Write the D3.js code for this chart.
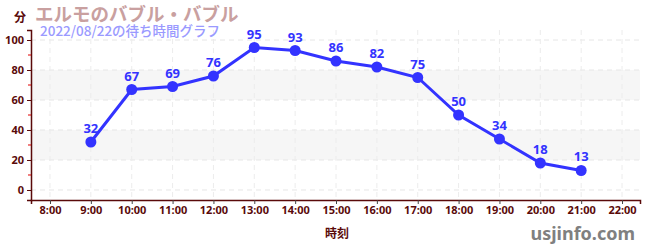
<!DOCTYPE html>
<html>
<head>
<meta charset="utf-8">
<script src="https://cdn.jsdelivr.net/npm/d3@7"></script>
<style>
body { margin: 0; background: #fff; }
svg text { font-family: "Noto Sans CJK JP", "Noto Sans", sans-serif; }
</style>
</head>
<body>
<svg id="chart" width="650" height="250"></svg>
<script>
// data
var hours = [9, 10, 11, 12, 13, 14, 15, 16, 17, 18, 19, 20, 21];
var waits = [32, 67, 69, 76, 95, 93, 86, 82, 75, 50, 34, 18, 13];
var xTicks = [8, 9, 10, 11, 12, 13, 14, 15, 16, 17, 18, 19, 20, 21, 22];
var yTicks = [0, 20, 40, 60, 80, 100];
var yMinor = [10, 30, 50, 70, 90];
var bands = [[20, 40], [60, 80]];

var svg = d3.select("#chart");
var dark = "#5a0a0a";

var x = d3.scaleLinear().domain([7.535, 22.44]).range([31, 640]);
var y = d3.scaleLinear().domain([-6.67, 106.67]).range([200, 30]);

// bands
svg.selectAll("rect.band").data(bands).enter().append("rect")
  .attr("x", x.range()[0]).attr("width", x.range()[1] - x.range()[0])
  .attr("y", d => y(d[1])).attr("height", d => y(d[0]) - y(d[1]))
  .attr("fill", "#f6f6f6");

// grid
svg.selectAll("line.hg").data(yTicks).enter().append("line")
  .attr("x1", 31).attr("x2", 640)
  .attr("y1", d => y(d)).attr("y2", d => y(d))
  .attr("stroke", "#e6e6e6").attr("stroke-dasharray", "5,4");
svg.selectAll("line.vg").data(xTicks).enter().append("line")
  .attr("x1", d => x(d)).attr("x2", d => x(d))
  .attr("y1", 30).attr("y2", 200)
  .attr("stroke", "#ececec").attr("stroke-dasharray", "5,4");

// axes
var yAxis = svg.append("g").attr("transform", "translate(31,0)")
  .call(d3.axisLeft(y).tickValues(yTicks).tickSize(4).tickPadding(3));
var xAxis = svg.append("g").attr("transform", "translate(0,200)")
  .call(d3.axisBottom(x).tickValues(xTicks).tickSize(4).tickPadding(2)
    .tickFormat(d => d + ":00"));
[yAxis, xAxis].forEach(function (a) {
  a.select(".domain").attr("stroke", dark).attr("stroke-width", 1.5);
  a.selectAll(".tick line").attr("stroke", dark);
  a.selectAll(".tick text").attr("fill", dark).attr("font-size", 11)
    .attr("font-weight", "bold").style("font-family", "'Noto Sans', sans-serif");
});
xAxis.selectAll(".tick line").attr("stroke", "#444");
svg.selectAll("line.minor").data(yMinor).enter().append("line")
  .attr("x1", 28).attr("x2", 31)
  .attr("y1", d => y(d)).attr("y2", d => y(d))
  .attr("stroke", "#e00000");

// line
var line = d3.line().x((d, i) => x(hours[i])).y(d => y(d));
svg.append("path").datum(waits).attr("d", line)
  .attr("fill", "none").attr("stroke", "#3333ff").attr("stroke-width", 3);
svg.selectAll("circle.pt").data(waits).enter().append("circle")
  .attr("cx", (d, i) => x(hours[i])).attr("cy", d => y(d)).attr("r", 5.5)
  .attr("fill", "#3333ff");
svg.selectAll("text.lbl").data(waits).enter().append("text")
  .attr("x", (d, i) => x(hours[i])).attr("y", d => y(d) - 9)
  .attr("text-anchor", "middle").attr("fill", "#3333ff")
  .attr("font-size", 13).attr("font-weight", "bold")
  .style("font-family", "'Noto Sans', sans-serif")
  .text(d => d);

// titles
svg.append("text").attr("x", 14).attr("y", 22).text("分")
  .attr("fill", dark).attr("font-size", 12).attr("font-weight", "bold");
svg.append("text").attr("x", 35).attr("y", 21).text("エルモのバブル・バブル")
  .attr("fill", "#c9a0a0").attr("font-size", 18.5).attr("font-weight", "bold");
svg.append("text").attr("x", 40).attr("y", 36).text("2022/08/22の待ち時間グラフ")
  .attr("fill", "#9a9aff").attr("font-size", 13.5).attr("font-weight", 500);
svg.append("text").attr("x", 337).attr("y", 238).attr("text-anchor", "middle")
  .text("時刻").attr("fill", dark).attr("font-size", 12).attr("font-weight", "bold");
svg.append("text").attr("x", 635).attr("y", 240).attr("text-anchor", "end")
  .text("usjinfo.com").attr("fill", "#808080").attr("font-size", 18)
  .attr("font-weight", "bold").style("font-family", "'Noto Sans', sans-serif");
</script>
</body>
</html>
